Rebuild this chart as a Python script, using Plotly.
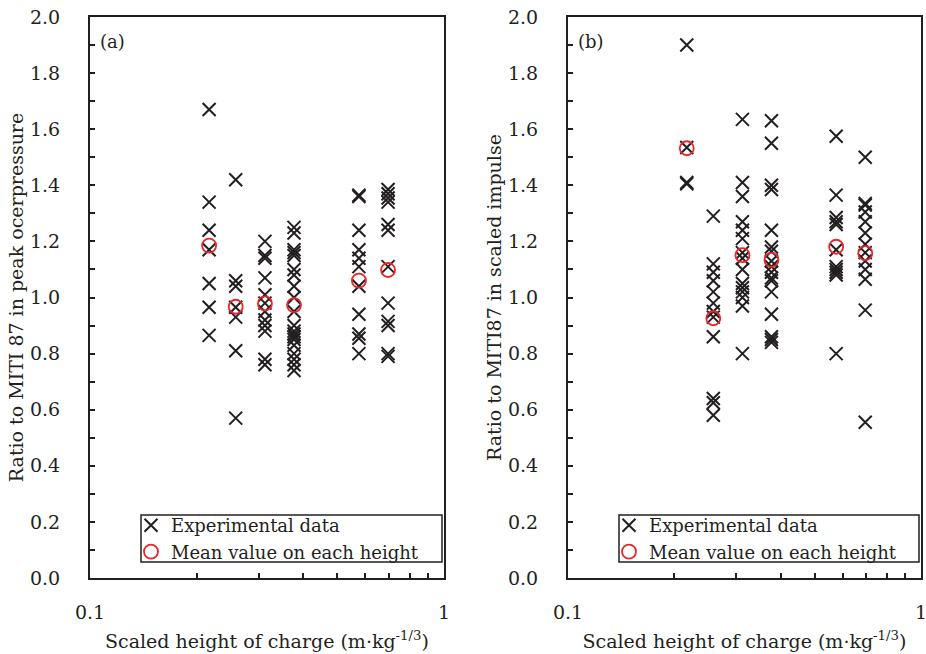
import plotly.graph_objects as go

# Scaled heights of charge (m·kg^-1/3)
heights = [0.217, 0.258, 0.312, 0.377, 0.575, 0.695]

# Panel (a): ratio to MITI 87 in peak overpressure, one list per height
peak_h1 = [1.67, 1.34, 1.24, 1.17, 1.05, 0.965, 0.865]
peak_h2 = [1.42, 1.06, 1.04, 0.965, 0.93, 0.81, 0.57]
peak_h3 = [1.20, 1.15, 1.14, 1.07, 1.01, 0.98, 0.95, 0.92, 0.90, 0.88, 0.78, 0.76]
peak_h4 = [1.25, 1.23, 1.17, 1.16, 1.15, 1.10, 1.08, 1.04, 1.00, 0.95,
           0.90, 0.88, 0.87, 0.86, 0.85, 0.83, 0.80, 0.78, 0.76, 0.74]
peak_h5 = [1.365, 1.36, 1.24, 1.17, 1.14, 1.11, 1.04, 0.94, 0.87, 0.855, 0.80]
peak_h6 = [1.385, 1.37, 1.355, 1.34, 1.26, 1.24, 1.11, 0.98, 0.915, 0.90, 0.80, 0.79]
peak_mean = [1.185, 0.967, 0.979, 0.973, 1.06, 1.098]

# Panel (b): ratio to MITI87 in scaled impulse
imp_h1 = [1.90, 1.535, 1.41, 1.405]
imp_h2 = [1.29, 1.12, 1.09, 1.06, 1.02, 0.98, 0.95, 0.93, 0.86, 0.64, 0.625, 0.58]
imp_h3 = [1.635, 1.41, 1.36, 1.27, 1.24, 1.21, 1.16, 1.14, 1.10, 1.05, 1.035,
          1.02, 1.00, 0.97, 0.80]
imp_h4 = [1.63, 1.55, 1.40, 1.385, 1.24, 1.18, 1.165, 1.13, 1.11, 1.09, 1.07,
          1.06, 1.02, 0.94, 0.86, 0.85, 0.84]
imp_h5 = [1.575, 1.365, 1.285, 1.27, 1.26, 1.17, 1.11, 1.10, 1.09, 1.08, 0.80]
imp_h6 = [1.50, 1.335, 1.33, 1.305, 1.27, 1.23, 1.19, 1.16, 1.13, 1.10, 1.065,
          0.955, 0.555]
imp_mean = [1.532, 0.926, 1.151, 1.134, 1.181, 1.158]

y_ticks = [0.0, 0.2, 0.4, 0.6, 0.8, 1.0, 1.2, 1.4, 1.6, 1.8, 2.0]
x_ticks = [0.1, 1.0]
x_ticktext = ["0.1", "1"]
x_minor = [0.2, 0.3, 0.4, 0.5, 0.6, 0.7, 0.8, 0.9]

peak_cols = [peak_h1, peak_h2, peak_h3, peak_h4, peak_h5, peak_h6]
imp_cols = [imp_h1, imp_h2, imp_h3, imp_h4, imp_h5, imp_h6]

def flatten(cols):
    xs, ys = [], []
    for h, col in zip(heights, cols):
        for v in col:
            xs.append(h)
            ys.append(v)
    return xs, ys

FONT = "DejaVu Serif"
INK = "#231f20"
RED = "#e8262b"

fig = go.Figure()

panels = [
    (peak_cols, peak_mean, "x", "y", "legend"),
    (imp_cols, imp_mean, "x2", "y2", "legend2"),
]
for cols, mean, xa, ya, lg in panels:
    xs, ys = flatten(cols)
    fig.add_trace(go.Scatter(
        x=xs, y=ys, mode="markers", name="Experimental data",
        xaxis=xa, yaxis=ya, legend=lg,
        marker=dict(symbol="x-thin-open", size=13, color=INK,
                    line=dict(width=2, color=INK)),
    ))
    fig.add_trace(go.Scatter(
        x=heights, y=mean, mode="markers", name="Mean value on each height",
        xaxis=xa, yaxis=ya, legend=lg,
        marker=dict(symbol="circle-open", size=14, color=RED,
                    line=dict(width=1.8, color=RED)),
    ))

W, H = 926, 654
def px_x(p):
    return p / W
def px_y(p):
    return (H - p) / H

xaxis_common = dict(
    type="log", range=[-1, 0], tickvals=x_ticks, ticktext=x_ticktext,
    ticks="inside", ticklen=5, tickwidth=1.5, tickcolor=INK,
    minor=dict(tickmode="array", tickvals=x_minor, ticks="inside", ticklen=5,
               tickwidth=1.5, tickcolor=INK, showgrid=False),
    showline=True, linewidth=2, linecolor=INK, mirror=True,
    showgrid=False, zeroline=False, automargin=False,
    ticklabeloverflow="allow",
    tickfont=dict(family=FONT, size=19, color=INK),
    ticklabelstandoff=16,
    title=dict(text="Scaled height of charge (m·kg<sup>-1/3</sup>)",
               font=dict(family=FONT, size=19, color=INK), standoff=13),
)
yaxis_common = dict(
    range=[0, 2.0], tickvals=y_ticks, ticktext=[f"{v:.1f}" for v in y_ticks],
    ticks="inside", ticklen=5, tickwidth=1.5, tickcolor=INK,
    minor=dict(dtick=0.1, ticks="inside", ticklen=5, tickwidth=1.5, tickcolor=INK),
    showline=True, linewidth=2, linecolor=INK, mirror=True,
    showgrid=False, zeroline=False, automargin=False,
    tickfont=dict(family=FONT, size=19, color=INK),
    ticklabelstandoff=24,
)

legend_style = dict(xanchor="left", yanchor="top", borderwidth=0,
                    bgcolor="rgba(0,0,0,0)",
                    font=dict(family=FONT, size=18, color=INK),
                    itemwidth=30, tracegroupgap=0)

fig.update_layout(
    width=W, height=H,
    margin=dict(l=0, r=0, t=0, b=0, autoexpand=False),
    paper_bgcolor="white", plot_bgcolor="white",
    font=dict(family=FONT, size=17, color=INK),
    xaxis=dict(domain=[px_x(90), px_x(444)], anchor="y", **xaxis_common),
    xaxis2=dict(domain=[px_x(568), px_x(921)], anchor="y2", **xaxis_common),
    yaxis=dict(domain=[px_y(578), px_y(17)], anchor="x",
               title=dict(text="Ratio to MITI 87 in peak ocerpressure",
                          font=dict(family=FONT, size=19, color=INK), standoff=1),
               **yaxis_common),
    yaxis2=dict(domain=[px_y(578), px_y(17)], anchor="x2",
                title=dict(text="Ratio to MITI87 in scaled impulse",
                           font=dict(family=FONT, size=19, color=INK), standoff=1),
                **yaxis_common),
    legend=dict(x=px_x(131), y=px_y(507), **legend_style),
    legend2=dict(x=px_x(609), y=px_y(507), **legend_style),
    showlegend=True,
    shapes=[
        dict(type="rect", xref="paper", yref="paper",
             x0=px_x(141), x1=px_x(442), y0=px_y(562), y1=px_y(515),
             line=dict(color=INK, width=1.5), fillcolor="rgba(0,0,0,0)",
             layer="above"),
        dict(type="rect", xref="paper", yref="paper",
             x0=px_x(619), x1=px_x(919), y0=px_y(562), y1=px_y(515),
             line=dict(color=INK, width=1.5), fillcolor="rgba(0,0,0,0)",
             layer="above"),
    ],
    annotations=[
        dict(text="(a)", xref="x domain", yref="y domain", x=0.022, y=0.978,
             xanchor="left", yanchor="top", showarrow=False,
             font=dict(family=FONT, size=18, color=INK)),
        dict(text="(b)", xref="x2 domain", yref="y2 domain", x=0.022, y=0.978,
             xanchor="left", yanchor="top", showarrow=False,
             font=dict(family=FONT, size=18, color=INK)),
    ],
)

fig.write_html("out.html")
